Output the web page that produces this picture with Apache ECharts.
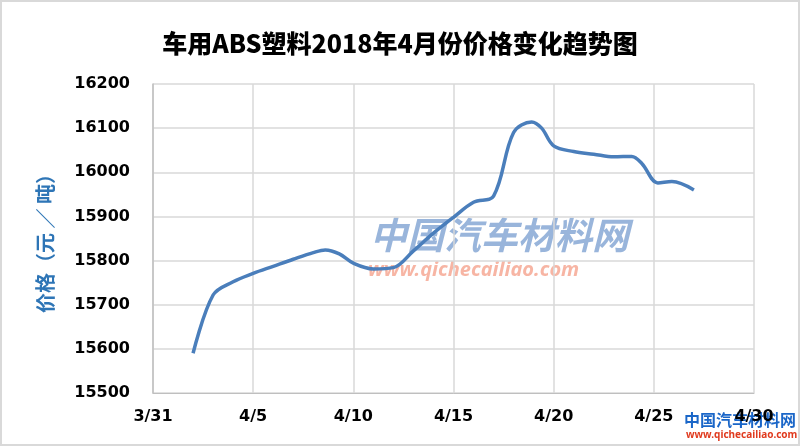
<!DOCTYPE html>
<html><head><meta charset="utf-8">
<script src="https://cdn.jsdelivr.net/npm/echarts@6/dist/echarts.min.js"></script>
<style>html,body{margin:0;padding:0;background:#fff}#c{width:800px;height:446px;box-sizing:border-box;border:2px solid #d9d9d9}</style>
</head><body><div id="c"></div>
<script>
const title = '车用ABS塑料2018年4月份价格变化趋势图';
const yName = '价格（元 ／ 吨）';
// day index from 3/31 (0) to 4/30 (30)
const tickLabels = ['3/31','4/5','4/10','4/15','4/20','4/25','4/30'];
const days = [2, 3, 4, 5, 6, 7, 8, 8.6, 9.3, 10, 11, 12, 13, 14, 15, 16, 17, 18, 18.9, 19.4, 20, 21, 22, 23, 23.9, 24.4, 25.2, 25.9, 27];
const prices = [15590, 15722, 15752, 15771, 15787, 15803, 15818, 15824, 15815, 15794, 15781, 15784, 15822, 15862, 15898, 15932, 15946, 16090, 16114, 16100, 16060, 16047, 16041, 16035, 16036, 16020, 15976, 15979, 15960];

const chart = echarts.init(document.getElementById('c'));
chart.setOption({
  animation: false,
  title: { text: title, left: 'center', top: 24,
    textStyle: { fontFamily: 'Noto Sans CJK SC', fontWeight: 900, fontSize: 25, color: '#000' } },
  grid: { left: 151, right: 44, top: 82, bottom: 51 },
  xAxis: {
    type: 'value', min: 0, max: 30, interval: 5,
    axisLine: { lineStyle: { color: '#bfbfbf', width: 1 } },
    axisTick: { show: false },
    splitLine: { show: true, lineStyle: { color: '#d9d9d9', width: 1.5 } },
    axisLabel: { margin: 16, color: '#000', fontWeight: 'bold', fontSize: 16, fontFamily: 'DejaVu Sans',
      formatter: v => tickLabels[Math.round(v / 5)] }
  },
  yAxis: {
    type: 'value', min: 15500, max: 16200, interval: 100,
    name: yName, nameLocation: 'middle', nameGap: 98, nameRotate: 90,
    nameTextStyle: { color: '#2e75b6', fontWeight: 'bold', fontSize: 20, fontFamily: 'Noto Sans CJK SC' },
    axisLine: { show: true, lineStyle: { color: '#bfbfbf', width: 1.5 } },
    axisTick: { show: false },
    splitLine: { show: true, lineStyle: { color: '#d9d9d9', width: 1.5 } },
    axisLabel: { margin: 23, color: '#000', fontWeight: 'bold', fontSize: 16, fontFamily: 'DejaVu Sans',
      formatter: v => String(v) }
  },
  graphic: [
    { type: 'text', left: 368, top: 214, silent: true, z: -1,
      style: { text: '中国汽车材料网', fontSize: 37, fontWeight: 'bold', fontStyle: 'italic', fontFamily: 'Noto Sans CJK SC', fill: 'rgba(70,120,190,0.55)' } },
    { type: 'text', left: 366, top: 258, silent: true, z: -1,
      style: { text: 'www.qichecailiao.com', fontSize: 20, fontWeight: 'bold', fontStyle: 'italic', fontFamily: 'Noto Sans', fill: 'rgba(240,120,90,0.55)' } },
    { type: 'text', left: 682, top: 410, silent: true,
      style: { text: '中国汽车材料网', fontSize: 16, fontWeight: 'bold', fontFamily: 'Noto Sans CJK SC', fill: '#1a66c8' } },
    { type: 'text', left: 684, top: 428, silent: true,
      style: { text: 'www.qichecailiao.com', fontSize: 10, fontWeight: 'bold', fontFamily: 'Noto Sans', fill: '#e03a1e' } }
  ],
  series: [{
    type: 'line', smooth: 0.35, showSymbol: false,
    data: days.map((d, i) => [d, prices[i]]),
    lineStyle: { color: '#4a7ebb', width: 3.5 }
  }]
});
</script></body></html>
